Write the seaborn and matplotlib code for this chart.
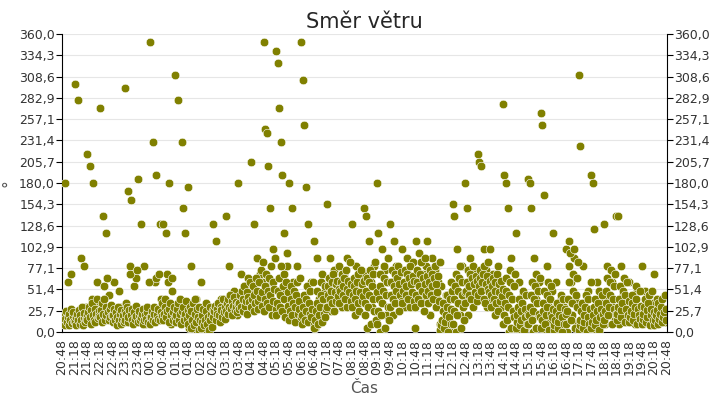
import numpy as np
import pandas as pd
import matplotlib
matplotlib.use("Agg")
import matplotlib.pyplot as plt
import seaborn as sns

# směr větru, 8 odečtů na každou půlhodinu (od 20:48)
smer = [
    15, 22, 180, 12, 60, 18, 70, 25,
    300, 10, 280, 20, 90, 15, 80, 30,
    215, 25, 200, 40, 180, 20, 60, 35,
    270, 30, 140, 55, 120, 20, 45, 25,
    15, 60, 25, 10, 50, 30, 20, 12,
    295, 35, 170, 80, 160, 20, 55, 65,
    185, 15, 130, 25, 80, 10, 30, 20,
    350, 20, 230, 60, 190, 15, 130, 40,
    130, 25, 120, 70, 180, 10, 50, 30,
    310, 15, 280, 35, 230, 150, 120, 20,
    175, 5, 80, 30, 15, 40, 0, 20,
    60, 5, 25, 0, 15, 30, 10, 20,
    130, 20, 110, 35, 15, 40, 25, 30,
    140, 30, 80, 45, 25, 50, 35, 20,
    180, 40, 70, 25, 55, 30, 65, 45,
    205, 50, 130, 35, 90, 40, 70, 60,
    350, 245, 240, 200, 150, 60, 100, 30,
    340, 325, 270, 230, 190, 120, 50, 80,
    180, 30, 150, 60, 15, 80, 40, 25,
    350, 305, 250, 175, 130, 30, 60, 15,
    110, 5, 90, 40, 20, 70, 30, 50,
    155, 40, 90, 25, 60, 75, 35, 50,
    80, 45, 30, 70, 55, 90, 60, 40,
    130, 50, 20, 80, 65, 35, 45, 70,
    150, 140, 5, 110, 60, 30, 80, 45,
    180, 120, 0, 100, 50, 75, 20, 60,
    130, 60, 20, 110, 80, 45, 70, 35,
    100, 55, 30, 90, 70, 60, 40, 85,
    5, 110, 60, 95, 40, 70, 50, 80,
    110, 65, 20, 90, 55, 75, 40, 60,
    10, 55, 0, 30, 45, 20, 5, 60,
    155, 140, 0, 100, 60, 20, 80, 40,
    180, 150, 20, 90, 60, 75, 40, 55,
    215, 205, 200, 60, 100, 75, 30, 50,
    100, 40, 70, 20, 55, 80, 60, 30,
    275, 190, 180, 150, 0, 90, 40, 20,
    120, 0, 60, 30, 15, 45, 5, 25,
    185, 180, 150, 0, 90, 40, 20, 60,
    265, 250, 165, 0, 80, 30, 15, 50,
    120, 0, 60, 20, 10, 40, 5, 30,
    100, 0, 110, 60, 20, 90, 40, 10,
    310, 225, 0, 80, 30, 15, 50, 5,
    190, 180, 125, 0, 60, 20, 35, 10,
    130, 10, 80, 40, 20, 60, 30, 15,
    140, 140, 10, 80, 45, 25, 60, 20,
    60, 15, 40, 25, 10, 50, 30, 20,
    80, 10, 50, 30, 20, 45, 15, 35,
    70, 10, 40, 20, 30, 15, 25, 12,
]
# hustý pás nízkých hodnot, dalších 16 odečtů na půlhodinu
smer_nizky = [
    10, 14, 20, 8, 16, 25, 12, 18, 22, 9, 15, 28, 11, 19, 24, 13,
    12, 18, 8, 22, 15, 26, 10, 20, 14, 30, 9, 17, 23, 12, 16, 21,
    14, 24, 30, 18, 10, 26, 35, 20, 15, 28, 12, 22, 40, 17, 25, 19,
    18, 26, 35, 12, 22, 40, 15, 30, 20, 65, 24, 14, 28, 18, 33, 21,
    12, 20, 28, 15, 24, 8, 18, 30, 14, 22, 10, 26, 16, 20, 12, 25,
    15, 22, 30, 12, 18, 26, 70, 20, 14, 28, 10, 24, 16, 32, 19, 75,
    12, 20, 25, 15, 18, 22, 10, 28, 14, 20, 16, 24, 30, 12, 60, 18,
    10, 18, 25, 14, 22, 30, 12, 65, 20, 16, 28, 70, 15, 24, 19, 35,
    15, 22, 30, 40, 18, 25, 60, 12, 28, 35, 20, 65, 14, 24, 30, 18,
    12, 20, 28, 35, 15, 22, 40, 10, 25, 30, 18, 14, 22, 38, 16, 26,
    10, 20, 30, 5, 25, 15, 35, 8, 22, 40, 12, 28, 18, 2, 30, 14,
    5, 12, 20, 28, 8, 15, 25, 35, 10, 18, 2, 30, 14, 22, 6, 26,
    18, 25, 32, 15, 28, 22, 35, 20, 12, 30, 26, 18, 40, 24, 16, 30,
    25, 35, 40, 22, 30, 45, 28, 38, 20, 32, 42, 26, 36, 30, 24, 34,
    28, 35, 45, 30, 50, 25, 40, 55, 32, 38, 48, 22, 42, 36, 60, 30,
    30, 40, 55, 25, 45, 35, 65, 50, 38, 28, 60, 42, 75, 32, 48, 85,
    25, 40, 55, 70, 35, 50, 65, 30, 45, 80, 20, 60, 38, 52, 90, 28,
    20, 35, 50, 65, 30, 45, 80, 25, 55, 40, 70, 18, 60, 95, 32, 48,
    15, 25, 40, 55, 20, 35, 50, 12, 30, 45, 60, 22, 38, 28, 65, 18,
    10, 20, 30, 45, 15, 25, 40, 55, 12, 35, 22, 50, 18, 28, 60, 8,
    5, 15, 25, 35, 50, 10, 20, 30, 45, 60, 12, 40, 22, 55, 18, 28,
    30, 45, 55, 65, 40, 50, 60, 35, 70, 25, 48, 58, 38, 62, 44, 52,
    35, 50, 60, 70, 45, 55, 65, 40, 75, 30, 52, 62, 48, 85, 38, 58,
    30, 45, 55, 65, 40, 50, 60, 35, 70, 25, 48, 75, 38, 58, 44, 62,
    20, 35, 50, 65, 30, 45, 60, 75, 10, 55, 40, 70, 25, 85, 15, 48,
    10, 25, 40, 55, 70, 20, 35, 50, 65, 80, 5, 45, 60, 30, 90, 15,
    30, 45, 60, 75, 40, 55, 70, 35, 50, 65, 80, 25, 58, 45, 72, 38,
    35, 50, 60, 75, 45, 55, 70, 40, 65, 80, 30, 58, 48, 68, 38, 62,
    30, 45, 60, 75, 40, 55, 70, 85, 35, 50, 65, 25, 58, 90, 45, 68,
    35, 50, 60, 75, 45, 55, 70, 40, 65, 80, 30, 58, 48, 68, 38, 85,
    2, 8, 15, 25, 35, 5, 12, 20, 30, 45, 0, 18, 40, 10, 28, 50,
    10, 25, 40, 55, 70, 20, 35, 50, 65, 80, 5, 45, 60, 30, 15, 48,
    35, 50, 60, 75, 45, 55, 70, 40, 65, 80, 30, 58, 48, 68, 38, 62,
    45, 55, 65, 75, 50, 60, 70, 40, 80, 35, 58, 68, 52, 85, 48, 62,
    30, 45, 55, 65, 40, 50, 60, 35, 70, 25, 48, 58, 38, 62, 44, 52,
    10, 20, 35, 50, 65, 15, 30, 45, 60, 75, 5, 40, 25, 55, 18, 70,
    5, 12, 20, 30, 40, 8, 15, 25, 35, 50, 2, 18, 28, 45, 10, 22,
    10, 20, 30, 45, 60, 15, 25, 40, 55, 70, 5, 35, 50, 22, 65, 18,
    5, 15, 25, 35, 50, 10, 20, 30, 45, 60, 2, 40, 22, 55, 18, 28,
    2, 8, 15, 25, 35, 5, 12, 20, 30, 45, 0, 18, 40, 10, 28, 22,
    10, 25, 40, 60, 80, 95, 15, 35, 50, 70, 100, 5, 45, 65, 30, 85,
    2, 8, 15, 25, 35, 5, 12, 20, 30, 45, 0, 18, 40, 10, 28, 60,
    5, 12, 20, 30, 40, 8, 15, 25, 35, 50, 2, 18, 28, 45, 10, 22,
    15, 25, 35, 50, 65, 20, 30, 45, 60, 75, 10, 40, 55, 28, 70, 22,
    15, 22, 30, 40, 55, 18, 26, 35, 50, 65, 12, 45, 28, 60, 20, 38,
    12, 18, 25, 35, 45, 15, 22, 30, 40, 55, 10, 28, 20, 50, 16, 32,
    10, 16, 22, 30, 40, 12, 18, 26, 35, 45, 8, 20, 28, 50, 14, 24,
    8, 14, 20, 26, 35, 10, 16, 22, 30, 40, 12, 18, 24, 45, 15, 28,
]
tick_labels = []
for i in range(49):
    m = (20 * 60 + 48 + 30 * i) % 1440
    tick_labels.append(f"{m // 60:02d}:{m % 60:02d}")

df = pd.concat([
    pd.DataFrame({"cas": np.arange(len(smer)) * (30 / 8), "smer": smer}),
    pd.DataFrame({"cas": np.arange(len(smer_nizky)) * (30 / 16) + 0.9,
                  "smer": smer_nizky}),
])

sns.set_style("white")
fig, ax = plt.subplots(figsize=(7.2, 4.0), dpi=100)
fig.subplots_adjust(left=0.086, right=0.926, top=0.915, bottom=0.17)

sns.scatterplot(data=df, x="cas", y="smer", ax=ax, color="#808000",
                s=38, edgecolor="white", linewidth=0.4, zorder=3)

yt = np.linspace(0, 360, 15)
ylab = [f"{v:.1f}".replace(".", ",") for v in yt]
ax.set_ylim(0, 360)
ax.set_xlim(0, 1440)
ax.set_yticks(yt)
ax.set_yticklabels(ylab, fontsize=9, color="#333333")
ax.set_xticks(np.arange(49) * 30)
ax.set_xticklabels(tick_labels, rotation=90, fontsize=9, color="#333333")
ax.yaxis.grid(True, color="#e6e6e6", linewidth=0.8)
ax.set_axisbelow(True)
for s in ["top", "right"]:
    ax.spines[s].set_visible(False)
ax.spines["left"].set_color("black")
ax.spines["bottom"].set_color("black")
ax.tick_params(axis="both", length=4, direction="out", color="black", pad=1)

ax2 = ax.twinx()
ax2.set_ylim(0, 360)
ax2.set_yticks(yt)
ax2.set_yticklabels(ylab, fontsize=9, color="#333333")
for s in ["top", "left", "bottom"]:
    ax2.spines[s].set_visible(False)
ax2.spines["right"].set_color("black")
ax2.tick_params(axis="y", length=4, color="black", pad=1)

ax.set_title("Směr větru", fontsize=15, pad=4)
ax.set_xlabel("Čas", fontsize=11, color="#555555")
ax.set_ylabel("°", fontsize=11, color="#555555", labelpad=2)

fig.savefig("out.png", dpi=100)
